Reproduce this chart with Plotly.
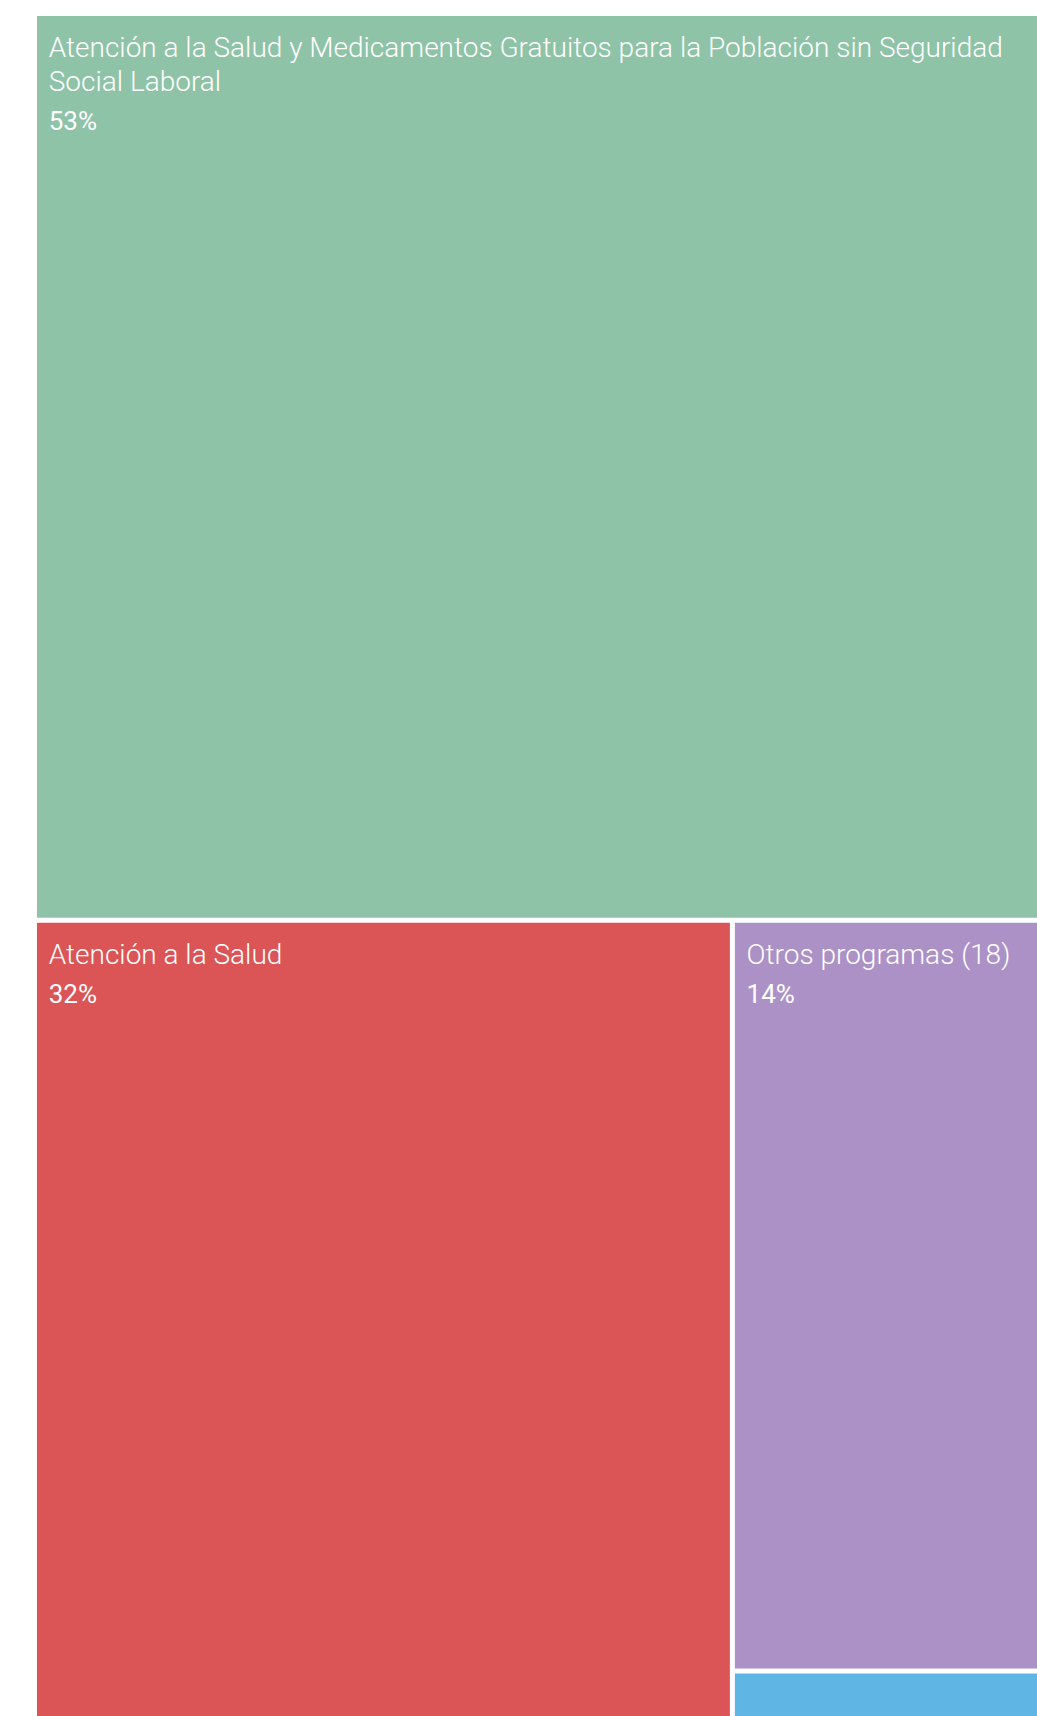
import plotly.graph_objects as go

# ---- data ----
programas = [
    "Atención a la Salud y Medicamentos Gratuitos para la Población sin Seguridad Social Laboral",
    "Atención a la Salud",
    "Otros programas (18)",
    "Otro programa",
]
lineas_etiqueta = [
    ["Atención a la Salud y Medicamentos Gratuitos para la Población sin Seguridad", "Social Laboral"],
    ["Atención a la Salud"],
    ["Otros programas (18)"],
    [],
]
porcentajes = [53, 32, 14, 1]
colores = ["#8EC3A7", "#DB5456", "#AC91C7", "#5FB6E4"]

# ---- text templates ----
LEAD = "<span style='font-size:20px'>\u00a0\u00a0</span>"
SPACER = "<span style='font-size:5px'>\u00a0</span><br>"
plantillas = []
for lineas in lineas_etiqueta:
    if not lineas:
        plantillas.append("")
        continue
    cuerpo = "<br>".join(LEAD + "<span style='font-size:28px'>" + l + "</span>" for l in lineas)
    plantillas.append(
        SPACER + cuerpo + "<br>" + LEAD +
        "<span style='font-weight:400;font-size:26px;baseline-shift:-6px'>%{percentRoot:.0%}</span>"
    )

fig = go.Figure(
    go.Treemap(
        labels=programas,
        parents=[""] * len(programas),
        values=porcentajes,
        marker=dict(colors=colores, line=dict(color="white", width=2),
                    pad=dict(t=0, l=0, r=0, b=0)),
        texttemplate=plantillas,
        textposition="top left",
        textfont=dict(family="Roboto", size=26, color="white", weight=300),
        pathbar=dict(visible=False),
        sort=True,
        hoverinfo="label+percent root",
    )
)
fig.update_layout(
    width=1058,
    height=1723,
    margin=dict(l=36, r=0, t=15, b=0),
    paper_bgcolor="white",
    showlegend=False,
)
fig.write_html(
    "out.html",
    config={"displayModeBar": False},
    post_script=(
        "document.body.style.margin='0';"
        "document.documentElement.style.overflow='hidden';"
        "document.body.style.overflow='hidden';"
    ),
)
